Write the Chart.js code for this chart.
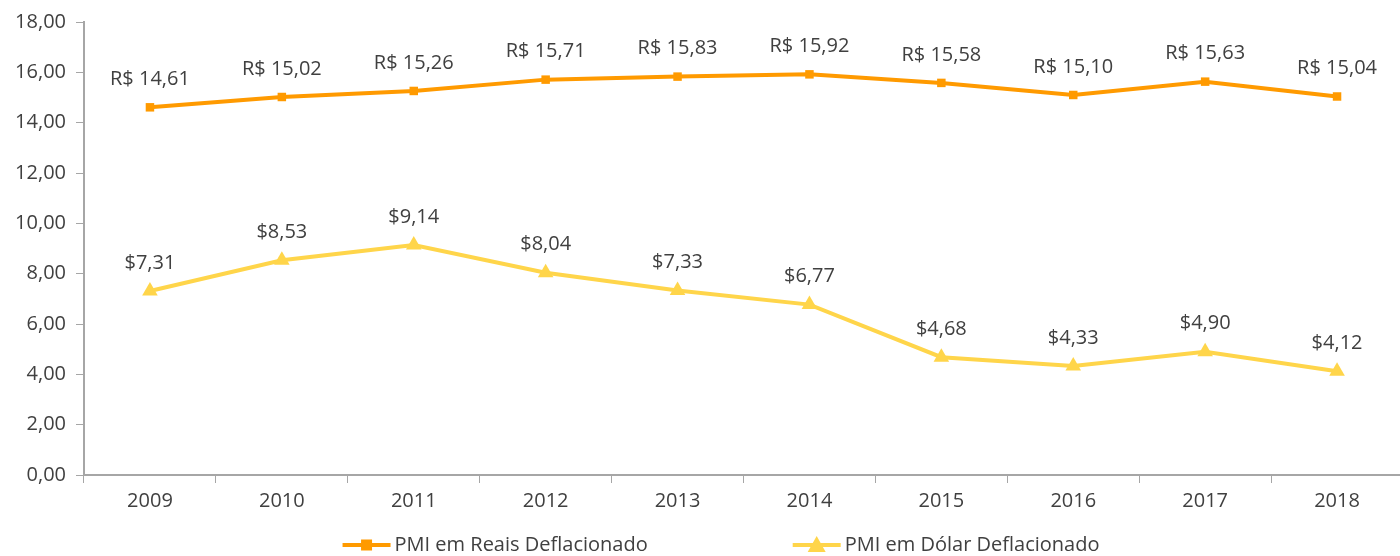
<!DOCTYPE html>
<html>
<head>
<meta charset="utf-8">
<script src="https://cdn.jsdelivr.net/npm/chart.js@4/dist/chart.umd.min.js"></script>
<style>
  html, body { margin: 0; padding: 0; background: #fff; overflow: hidden; }
  #wrap { width: 1412px; height: 556px; }
</style>
</head>
<body>
<div id="wrap"><canvas id="chart"></canvas></div>
<script>
// dados
const anos = ['2009', '2010', '2011', '2012', '2013', '2014', '2015', '2016', '2017', '2018'];
const pmiReais = [14.61, 15.02, 15.26, 15.71, 15.83, 15.92, 15.58, 15.10, 15.63, 15.04];
const pmiDolar = [7.31, 8.53, 9.14, 8.04, 7.33, 6.77, 4.68, 4.33, 4.90, 4.12];
const nomeReais = 'PMI em Reais Deflacionado';
const nomeDolar = 'PMI em Dólar Deflacionado';

const laranja = '#FF9A00';
const amarelo = '#FFD54A';
const corTexto = '#404040';
const corEixo = '#A6A6A6';
const fonte = "'Open Sans', 'Liberation Sans', sans-serif";
const tamFonte = 20;

function fmt(v) {
  return v.toFixed(2).replace('.', ',');
}

// desenha o marcador (quadrado ou triângulo)
function marcador(ctx, tipo, x, y) {
  if (tipo === 'rect') {
    ctx.fillRect(x - 5.5, y - 5.5, 11, 11);
  } else {
    ctx.beginPath();
    ctx.moveTo(x, y - 9); ctx.lineTo(x + 9, y + 7); ctx.lineTo(x - 9, y + 7);
    ctx.closePath(); ctx.fill();
  }
}

// rótulos de dados acima dos pontos
const rotulos = {
  id: 'rotulos',
  afterDatasetsDraw(chart) {
    const ctx = chart.ctx;
    ctx.save();
    ctx.font = tamFonte + 'px ' + fonte;
    ctx.fillStyle = corTexto;
    ctx.textAlign = 'center';
    ctx.textBaseline = 'middle';
    chart.data.datasets.forEach((ds, i) => {
      const meta = chart.getDatasetMeta(i);
      meta.data.forEach((p, j) => {
        ctx.fillText(ds.prefixo + fmt(ds.data[j]), p.x, p.y - 28);
      });
    });
    ctx.restore();
  }
};

// legenda no estilo linha + marcador
const legenda = {
  id: 'legenda',
  afterDraw(chart) {
    const ctx = chart.ctx;
    const tipos = ['rect', 'tri'];
    const icone = 48, gap = 4, espaco = 145;
    const y = 545;
    ctx.save();
    ctx.font = tamFonte + 'px ' + fonte;
    const larguras = chart.data.datasets.map(ds => ctx.measureText(ds.label).width);
    const total = larguras.reduce((a, b) => a + b, 0) + 2 * (icone + gap) + espaco;
    let x = 721 - total / 2;
    chart.data.datasets.forEach((ds, i) => {
      ctx.strokeStyle = ds.borderColor;
      ctx.fillStyle = ds.borderColor;
      ctx.lineWidth = 4;
      ctx.beginPath();
      ctx.moveTo(x, y); ctx.lineTo(x + icone, y);
      ctx.stroke();
      marcador(ctx, tipos[i], x + icone / 2, y);
      ctx.fillStyle = corTexto;
      ctx.textAlign = 'left';
      ctx.textBaseline = 'middle';
      ctx.fillText(ds.label, x + icone + gap, y);
      x += icone + gap + larguras[i] + espaco;
    });
    ctx.restore();
  }
};

new Chart(document.getElementById('chart'), {
  type: 'line',
  data: {
    labels: anos,
    datasets: [{
      label: nomeReais,
      data: pmiReais,
      prefixo: 'R$ ',
      borderColor: laranja,
      backgroundColor: laranja,
      borderWidth: 4,
      pointStyle: 'rect',
      pointRadius: 6,
      pointBorderWidth: 0,
      tension: 0
    }, {
      label: nomeDolar,
      data: pmiDolar,
      prefixo: '$',
      borderColor: amarelo,
      backgroundColor: amarelo,
      borderWidth: 4,
      pointStyle: 'triangle',
      pointRadius: 9,
      pointBorderWidth: 0,
      tension: 0
    }]
  },
  options: {
    responsive: true,
    maintainAspectRatio: false,
    animation: false,
    layout: { padding: { top: 14, right: 0, bottom: 37, left: 0 } },
    plugins: {
      tooltip: { enabled: false },
      legend: { display: false }
    },
    scales: {
      y: {
        min: 0,
        max: 18,
        afterFit(scale) { scale.width = 84; },
        ticks: {
          stepSize: 2,
          color: corTexto,
          font: { family: fonte, size: tamFonte },
          padding: 10,
          callback: v => fmt(v)
        },
        grid: {
          drawOnChartArea: false,
          color: corEixo,
          tickLength: 8,
          tickColor: corEixo
        },
        border: { color: corEixo, width: 2 }
      },
      x: {
        offset: true,
        ticks: {
          color: corTexto,
          font: { family: fonte, size: tamFonte },
          padding: 6
        },
        grid: {
          offset: true,
          drawOnChartArea: false,
          color: corEixo,
          tickLength: 8,
          tickColor: corEixo
        },
        border: { color: corEixo, width: 2 }
      }
    }
  },
  plugins: [rotulos, legenda]
});
</script>
</body>
</html>
